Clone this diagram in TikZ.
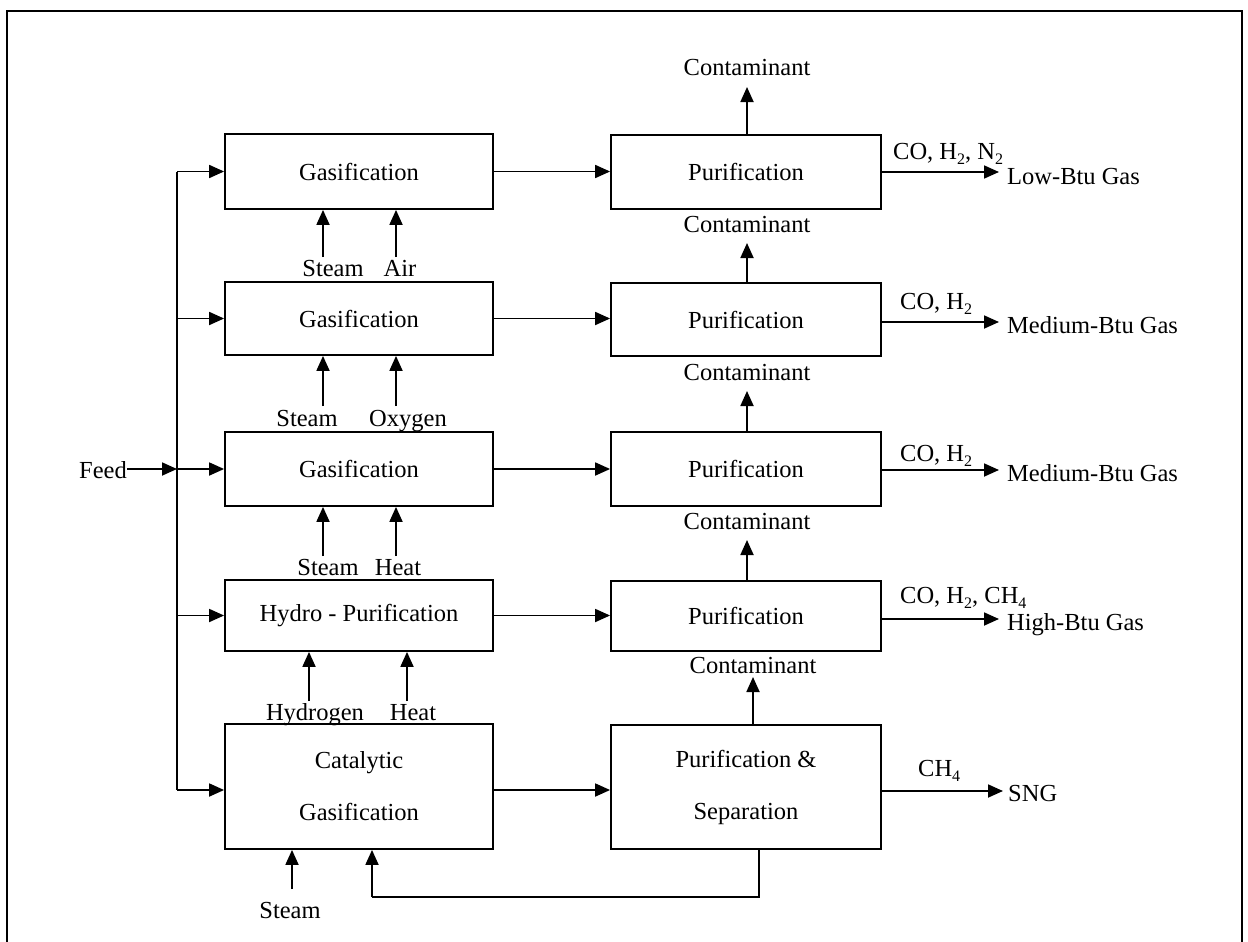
\documentclass[tikz,border=0pt]{standalone}
\usepackage{fontspec}
\setmainfont{Liberation Serif}
\usetikzlibrary{arrows.meta,calc}
\newcommand\sbs[1]{\raisebox{-5pt}{\fontsize{16}{16}\selectfont #1}}
\begin{document}
\begin{tikzpicture}[x=1pt,y=-1pt,
  every node/.style={font=\fontsize{24.5}{29}\selectfont},
  proc/.style={draw,line width=1.8pt,inner sep=0pt,align=center,minimum width=268pt},
  proc2/.style={proc,minimum width=270pt},
  lbl/.style={inner sep=1.5pt,anchor=base},
  lblw/.style={inner sep=0pt,anchor=base west},
  arr/.style={line width=1.8pt,-{Triangle[length=15pt,width=13pt]}},
  ln/.style={line width=1.8pt}]
\useasboundingbox (0,0) rectangle (1248,942);
\fill[white] (0,0) rectangle (1248,942);
\draw[line width=2.4pt] (7,960) -- (7,11) -- (1242,11) -- (1242,960);

% left column
\node[proc,minimum height=75pt] (g1) at (359,171.5) {Gasification};
\node[proc,minimum height=73pt] (g2) at (359,318.5) {Gasification};
\node[proc,minimum height=74pt] (g3) at (359,469) {Gasification};
\node[proc,minimum height=71pt] (hp) at (359,615.5) {Hydro - Purification};
\node[proc,minimum height=125pt] (cg) at (359,786.5) {Catalytic\\[23pt]Gasification};

% right column
\node[proc2,minimum height=74pt] (p1) at (746,172) {Purification};
\node[proc2,minimum height=73pt] (p2) at (746,319.5) {Purification};
\node[proc2,minimum height=74pt] (p3) at (746,469) {Purification};
\node[proc2,minimum height=70pt] (p4) at (746,616) {Purification};
\node[proc2,minimum height=124pt] (ps) at (746,787) {Purification \&\\[23pt]Separation};

% feed and bus
\node[inner sep=0pt,anchor=base east] (feed) at (127,478) {Feed};
\coordinate (b1) at (177,171.5);
\coordinate (b2) at (177,318.5);
\coordinate (b3) at (177,469);
\coordinate (b4) at (177,615.5);
\coordinate (b5) at (177,790);
\draw[ln] (b1) -- (b5);
\draw[arr] (feed.east |- b3) -- (b3);
\draw[arr] (b1) -- (g1);
\draw[arr] (b2) -- (g2);
\draw[arr] (b3) -- (g3);
\draw[arr] (b4) -- (hp);
\draw[arr] (b5) -- (b5 -| cg.west);

% between columns
\draw[arr] (g1) -- (p1.west |- g1);
\draw[arr] (g2) -- (p2.west |- g2);
\draw[arr] (g3) -- (p3);
\draw[arr] (hp) -- (p4.west |- hp);
\coordinate (m5) at (600,790);
\draw[arr] (cg.east |- m5) -- (ps.west |- m5);

% inputs
\node[lbl] (s1) at (333,276) {Steam};
\node[lbl] (a1) at (400,276) {Air};
\coordinate (i11) at (323,257);
\coordinate (i12) at (396,257);
\draw[arr] (i11) -- (i11 |- g1.south);
\draw[arr] (i12) -- (i12 |- g1.south);

\node[lbl] (s2) at (307,426) {Steam};
\node[lbl] (ox) at (408,426) {Oxygen};
\coordinate (i21) at (323,406);
\coordinate (i22) at (396,406);
\draw[arr] (i21) -- (i21 |- g2.south);
\draw[arr] (i22) -- (i22 |- g2.south);

\node[lbl] (s3) at (328,575) {Steam};
\node[lbl] (h3) at (398,575) {Heat};
\coordinate (i31) at (323,556);
\coordinate (i32) at (396,556);
\draw[arr] (i31) -- (i31 |- g3.south);
\draw[arr] (i32) -- (i32 |- g3.south);

\node[lbl] (hy) at (315,720) {Hydrogen};
\node[lbl] (h4) at (413,720) {Heat};
\coordinate (i41) at (309,701);
\coordinate (i42) at (407,701);
\draw[arr] (i41) -- (i41 |- hp.south);
\draw[arr] (i42) -- (i42 |- hp.south);

\node[lbl] (s5) at (290,918) {Steam};
\coordinate (i51) at (292,889);
\draw[arr] (i51) -- (i51 |- cg.south);

% recycle
\coordinate (rA) at (759,897);
\coordinate (rB) at (372,897);
\draw[ln] (rA |- ps.south) -- (rA) -- (rB);
\draw[arr] (rB) -- (rB |- cg.south);

% contaminants
\node[lbl] (c1) at (747,76) {Contaminant};
\node[lbl] (c2) at (747,232) {Contaminant};
\node[lbl] (c3) at (747,380) {Contaminant};
\node[lbl] (c4) at (747,529) {Contaminant};
\node[lbl] (c5) at (753,673) {Contaminant};
\coordinate (t1) at (747,87);
\coordinate (t2) at (747,243);
\coordinate (t3) at (747,391);
\coordinate (t4) at (747,540);
\coordinate (t5) at (753,677);
\draw[arr] (t1 |- p1.north) -- (t1);
\draw[arr] (t2 |- p2.north) -- (t2);
\draw[arr] (t3 |- p3.north) -- (t3);
\draw[arr] (t4 |- p4.north) -- (t4);
\draw[arr] (t5 |- ps.north) -- (t5);

% outputs
\coordinate (o1) at (999,172);
\coordinate (o2) at (999,322);
\coordinate (o3) at (999,470);
\coordinate (o4) at (999,619);
\coordinate (o5) at (1003,791);
\draw[arr] (p1.east |- o1) -- (o1);
\draw[arr] (p2.east |- o2) -- (o2);
\draw[arr] (p3.east |- o3) -- (o3);
\draw[arr] (p4.east |- o4) -- (o4);
\draw[arr] (ps.east |- o5) -- (o5);

\node[lblw] (f1) at (893,159) {CO, H\sbs{2}, N\sbs{2}};
\node[lblw] (n1) at (1007,184) {Low-Btu Gas};
\node[lblw] (f2) at (900,309) {CO, H\sbs{2}};
\node[lblw] (n2) at (1007,333) {Medium-Btu Gas};
\node[lblw] (f3) at (900,461) {CO, H\sbs{2}};
\node[lblw] (n3) at (1007,481) {Medium-Btu Gas};
\node[lblw] (f4) at (900,603) {CO, H\sbs{2}, CH\sbs{4}};
\node[lblw] (n4) at (1007,630) {High-Btu Gas};
\node[lblw] (f5) at (918,776) {CH\sbs{4}};
\node[lblw] (n5) at (1008,801) {SNG};
\end{tikzpicture}
\end{document}
